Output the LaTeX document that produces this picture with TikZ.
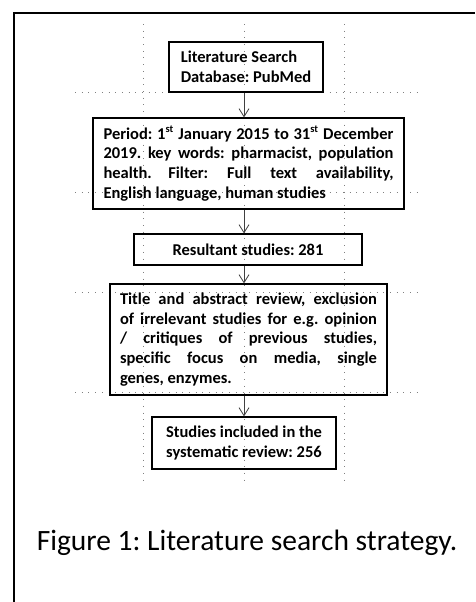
\documentclass[tikz,border=0pt]{standalone}
\usepackage{fontspec}
\setmainfont{Carlito}
\usetikzlibrary{arrows.meta}
\frenchspacing
\newcommand{\ordsup}[1]{\textsuperscript{\fontsize{10.5}{10.5}\selectfont #1}}
\tikzset{
  box/.style={rectangle, draw, line width=1.2pt, font=\bfseries\fontsize{16.5}{19.7}\selectfont, inner sep=0pt},
  gridline/.style={gray, line width=0.8pt, dash pattern=on 0.8pt off 5.9pt},
  flow/.style={-{Straight Barb[length=8pt,width=10pt]}, line width=0.8pt, black!75}
}
\begin{document}
\begin{tikzpicture}[x=1pt, y=-1pt]
    \useasboundingbox (0,0) rectangle (475,602);
    % page frame
    \draw[line width=2pt] (475,13) -- (14,13) -- (14,602);
    % layout grid
    \draw[gridline] (143,24) -- (143,483);
    \draw[gridline] (244,24) -- (244,483);
    \draw[gridline] (344,24) -- (344,483);
    \draw[gridline] (75,92) -- (421,92);
    \draw[gridline] (75,192) -- (421,192);
    \draw[gridline] (75,292) -- (421,292);
    \draw[gridline] (75,392) -- (421,392);
    % boxes
    \node[box, minimum width=154, minimum height=50, align=left] (search) at (246,67) {Literature Search\\Database: PubMed};
    \node[box, minimum width=311, minimum height=91, text width=290, align=justify] (period) at (248.5,163.5) {Period: 1\ordsup{st} January 2015 to 31\ordsup{st} December\linebreak 2019. key words: pharmacist, population\linebreak health.\quad Filter: Full text availability,\linebreak English language, human studies};
    \node[box, minimum width=228, minimum height=31] (resultant) at (248,249.5) {Resultant studies: 281};
    \node[box, minimum width=277, minimum height=111, text width=257, align=justify] (review) at (248.5,339.5) {Title and abstract review, exclusion\linebreak of irrelevant studies for e.g. opinion\linebreak / critiques of previous studies,\linebreak specific focus on media, single\linebreak genes, enzymes.};
    \node[box, minimum width=184, minimum height=52, align=center] (included) at (244,443) {Studies included in the\\systematic review: 256};
    % arrows
    \draw[flow] (search.south -| 244,0) -- (period.north -| 244,0);
    \draw[flow] (period.south -| 244,0) -- (resultant.north -| 244,0);
    \draw[flow] (resultant.south -| 244,0) -- (review.north -| 244,0);
    \draw[flow] (review.south -| 244,0) -- (included.north -| 244,0);
    % caption
    \node[font=\fontsize{29.5}{34}\selectfont, anchor=base] (caption) at (247,550) {Figure 1: Literature search strategy.};
\end{tikzpicture}
\end{document}
